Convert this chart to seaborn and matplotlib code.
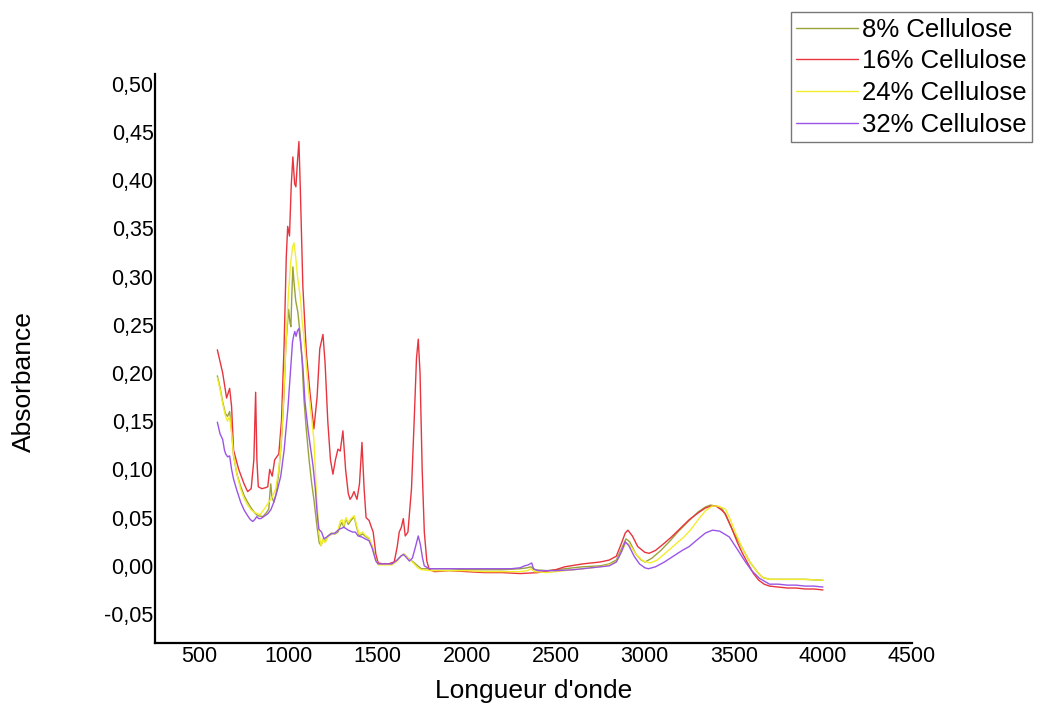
import matplotlib
matplotlib.use("Agg")
import matplotlib.pyplot as plt
from matplotlib.ticker import FuncFormatter, MultipleLocator
import numpy as np
import pandas as pd
import seaborn as sns

# FTIR absorbance spectra (wavenumber, absorbance) for each cellulose loading
series_names = ["8% Cellulose", "16% Cellulose", "24% Cellulose", "32% Cellulose"]

x_8 = [600, 615, 630, 645, 657, 669, 680, 691, 710, 730, 750, 770, 790, 810, 827, 855, 875, 889, 895, 900,
       906, 917, 930, 945, 960, 973, 985, 1000, 1008, 1013, 1018, 1024, 1030, 1040, 1052, 1065, 1075, 1086,
       1100, 1115, 1130, 1142, 1160, 1172, 1182, 1195, 1205, 1221, 1240, 1260, 1277, 1290, 1300, 1310, 1322,
       1335, 1350, 1368, 1382, 1396, 1415, 1435, 1452, 1470, 1490, 1503, 1540, 1580, 1610, 1630, 1650, 1670,
       1700, 1725, 1745, 1800, 1900, 2000, 2100, 2200, 2300, 2340, 2360, 2380, 2450, 2550, 2650, 2750, 2800,
       2840, 2870, 2894, 2915, 2950, 2980, 3001, 3040, 3090, 3137, 3190, 3249, 3300, 3340, 3368, 3400, 3435,
       3460, 3500, 3548, 3590, 3630, 3661, 3700, 3800, 3900, 4000]
y_8 = [0.197, 0.185, 0.170, 0.158, 0.155, 0.160, 0.140, 0.114, 0.095, 0.083, 0.073, 0.066, 0.060, 0.055,
       0.052, 0.051, 0.055, 0.059, 0.075, 0.085, 0.072, 0.066, 0.075, 0.097, 0.130, 0.173, 0.230, 0.266,
       0.252, 0.248, 0.280, 0.310, 0.295, 0.275, 0.263, 0.240, 0.215, 0.173, 0.140, 0.110, 0.085, 0.069,
       0.040, 0.024, 0.021, 0.028, 0.025, 0.031, 0.034, 0.033, 0.035, 0.042, 0.045, 0.040, 0.049, 0.043,
       0.047, 0.051, 0.040, 0.031, 0.033, 0.030, 0.028, 0.020, 0.006, 0.002, 0.002, 0.002, 0.006, 0.010,
       0.012, 0.008, 0.004, 0.000, -0.003, -0.003, -0.003, -0.004, -0.004, -0.004, -0.003, -0.002, -0.001,
       -0.004, -0.005, -0.003, -0.001, 0.000, 0.002, 0.006, 0.018, 0.028, 0.025, 0.012, 0.006, 0.004, 0.008,
       0.016, 0.025, 0.036, 0.047, 0.056, 0.061, 0.063, 0.062, 0.059, 0.050, 0.034, 0.018, 0.004, -0.006,
       -0.012, -0.014, -0.014, -0.014, -0.015]

x_16 = [600, 630, 652, 669, 680, 691, 720, 750, 770, 790, 805, 815, 822, 830, 850, 870, 883, 894, 908, 922,
        945, 960, 975, 987, 995, 1005, 1015, 1024, 1034, 1041, 1050, 1058, 1066, 1080, 1100, 1120, 1142, 1160,
        1175, 1193, 1205, 1220, 1235, 1249, 1263, 1277, 1290, 1305, 1320, 1335, 1345, 1356, 1367, 1384, 1398,
        1412, 1424, 1435, 1452, 1465, 1475, 1490, 1503, 1530, 1560, 1593, 1610, 1621, 1633, 1644, 1655, 1670,
        1690, 1705, 1718, 1728, 1738, 1750, 1762, 1776, 1790, 1820, 1900, 2000, 2100, 2200, 2300, 2400, 2500,
        2550, 2650, 2750, 2800, 2840, 2870, 2890, 2905, 2930, 2960, 3000, 3024, 3060, 3100, 3150, 3200, 3250,
        3300, 3340, 3373, 3400, 3430, 3452, 3490, 3520, 3548, 3580, 3610, 3640, 3670, 3700, 3750, 3800, 3850,
        3900, 3950, 4000]
y_16 = [0.224, 0.200, 0.174, 0.184, 0.165, 0.120, 0.100, 0.085, 0.077, 0.080, 0.110, 0.180, 0.110, 0.082,
        0.080, 0.081, 0.082, 0.100, 0.093, 0.110, 0.116, 0.150, 0.230, 0.320, 0.352, 0.342, 0.395, 0.424,
        0.396, 0.393, 0.420, 0.440, 0.390, 0.290, 0.220, 0.180, 0.142, 0.175, 0.225, 0.240, 0.210, 0.150,
        0.110, 0.095, 0.110, 0.121, 0.119, 0.140, 0.100, 0.075, 0.069, 0.072, 0.077, 0.069, 0.085, 0.128,
        0.080, 0.050, 0.047, 0.040, 0.035, 0.012, 0.003, 0.002, 0.002, 0.004, 0.020, 0.035, 0.040, 0.049,
        0.031, 0.035, 0.080, 0.150, 0.215, 0.235, 0.200, 0.100, 0.035, 0.005, -0.004, -0.006, -0.005, -0.006,
        -0.007, -0.007, -0.008, -0.007, -0.004, -0.001, 0.002, 0.004, 0.006, 0.010, 0.024, 0.034, 0.037,
        0.031, 0.020, 0.014, 0.013, 0.016, 0.022, 0.030, 0.039, 0.048, 0.055, 0.060, 0.062, 0.062, 0.058,
        0.054, 0.038, 0.024, 0.013, 0.002, -0.008, -0.015, -0.019, -0.021, -0.022, -0.023, -0.023, -0.024,
        -0.024, -0.025]

x_24 = [600, 615, 630, 645, 657, 669, 680, 691, 710, 730, 750, 770, 790, 804, 825, 840, 860, 889, 910, 928,
        945, 955, 967, 985, 1000, 1012, 1022, 1030, 1040, 1050, 1058, 1068, 1075, 1085, 1097, 1110, 1125,
        1142, 1155, 1170, 1182, 1195, 1205, 1221, 1240, 1260, 1277, 1290, 1300, 1310, 1322, 1335, 1350, 1368,
        1382, 1396, 1415, 1435, 1452, 1470, 1490, 1503, 1540, 1580, 1610, 1630, 1650, 1670, 1700, 1725, 1745,
        1800, 1900, 2000, 2100, 2200, 2300, 2340, 2360, 2380, 2450, 2550, 2650, 2750, 2800, 2840, 2870, 2894,
        2915, 2950, 2990, 3030, 3070, 3120, 3170, 3220, 3260, 3300, 3340, 3379, 3410, 3452, 3480, 3510, 3548,
        3590, 3630, 3661, 3700, 3800, 3900, 4000]
y_24 = [0.195, 0.183, 0.168, 0.156, 0.150, 0.155, 0.138, 0.115, 0.095, 0.080, 0.070, 0.063, 0.058, 0.056,
        0.054, 0.053, 0.058, 0.066, 0.072, 0.080, 0.100, 0.120, 0.155, 0.230, 0.285, 0.315, 0.330, 0.335,
        0.320, 0.300, 0.290, 0.275, 0.256, 0.240, 0.214, 0.185, 0.160, 0.131, 0.080, 0.035, 0.021, 0.028,
        0.024, 0.030, 0.033, 0.034, 0.037, 0.046, 0.048, 0.042, 0.050, 0.045, 0.049, 0.052, 0.042, 0.033,
        0.035, 0.031, 0.029, 0.020, 0.006, 0.001, 0.001, 0.001, 0.005, 0.010, 0.012, 0.008, 0.003, -0.002,
        -0.004, -0.005, -0.005, -0.005, -0.006, -0.006, -0.006, -0.005, -0.003, -0.006, -0.007, -0.005,
        -0.003, -0.001, 0.001, 0.004, 0.015, 0.024, 0.022, 0.012, 0.005, 0.003, 0.006, 0.014, 0.022, 0.030,
        0.038, 0.048, 0.057, 0.062, 0.062, 0.059, 0.048, 0.034, 0.018, 0.004, -0.006, -0.012, -0.014,
        -0.014, -0.014, -0.015]

x_32 = [600, 615, 630, 640, 647, 658, 669, 680, 691, 710, 731, 750, 770, 785, 799, 810, 821, 832, 844, 860,
        883, 900, 917, 935, 956, 975, 996, 1010, 1022, 1030, 1035, 1042, 1050, 1058, 1068, 1080, 1092, 1110,
        1125, 1137, 1150, 1160, 1170, 1185, 1199, 1215, 1238, 1260, 1285, 1311, 1335, 1360, 1375, 1390, 1410,
        1430, 1452, 1470, 1490, 1503, 1540, 1580, 1610, 1630, 1644, 1660, 1678, 1695, 1710, 1728, 1740, 1752,
        1762, 1790, 1850, 1950, 2050, 2150, 2250, 2300, 2325, 2345, 2365, 2375, 2400, 2500, 2600, 2700, 2800,
        2840, 2870, 2890, 2910, 2940, 2970, 3000, 3020, 3060, 3110, 3160, 3210, 3249, 3300, 3340, 3380, 3420,
        3474, 3520, 3565, 3600, 3644, 3700, 3750, 3800, 3850, 3900, 3950, 4000]
y_32 = [0.149, 0.137, 0.131, 0.120, 0.116, 0.113, 0.114, 0.100, 0.090, 0.078, 0.066, 0.058, 0.052, 0.048,
        0.046, 0.048, 0.051, 0.049, 0.049, 0.051, 0.054, 0.058, 0.066, 0.077, 0.093, 0.120, 0.163, 0.200,
        0.232, 0.240, 0.243, 0.238, 0.244, 0.246, 0.230, 0.207, 0.170, 0.140, 0.120, 0.104, 0.080, 0.055,
        0.038, 0.035, 0.028, 0.030, 0.033, 0.034, 0.038, 0.040, 0.037, 0.035, 0.035, 0.031, 0.030, 0.028,
        0.026, 0.018, 0.005, 0.002, 0.002, 0.002, 0.006, 0.010, 0.012, 0.009, 0.005, 0.008, 0.018, 0.031,
        0.022, 0.008, 0.000, -0.003, -0.003, -0.003, -0.003, -0.003, -0.003, -0.002, 0.000, 0.001, 0.003,
        -0.003, -0.005, -0.005, -0.004, -0.002, 0.000, 0.004, 0.015, 0.025, 0.021, 0.010, 0.002, -0.002,
        -0.003, -0.001, 0.004, 0.010, 0.016, 0.020, 0.028, 0.034, 0.037, 0.036, 0.030, 0.017, 0.004, -0.005,
        -0.013, -0.019, -0.019, -0.020, -0.020, -0.021, -0.021, -0.022]

line_colors = ["#9ba23a", "#e8343e", "#f3ee2c", "#9b55e6"]

frames = []
for name, xs, ys in zip(series_names, [x_8, x_16, x_24, x_32], [y_8, y_16, y_24, y_32]):
    frames.append(pd.DataFrame({"Longueur d'onde": xs, "Absorbance": ys, "serie": name}))
spectra = pd.concat(frames, ignore_index=True)

sns.set_theme(style="white")
plt.rcParams["font.family"] = ["Liberation Sans", "DejaVu Sans"]

fig = plt.figure(figsize=(10.37, 7.07), dpi=100)
ax = fig.add_axes([155 / 1037, 1 - 643 / 707, (912 - 155) / 1037, (643 - 74) / 707])

sns.lineplot(data=spectra, x="Longueur d'onde", y="Absorbance", hue="serie",
             hue_order=series_names, palette=line_colors, sort=False, estimator=None,
             linewidth=1.0, ax=ax)

ax.set_xlim(250, 4500)
ax.set_ylim(-0.08, 0.51)
ax.xaxis.set_major_locator(MultipleLocator(500))
ax.set_yticks(np.round(np.arange(-0.05, 0.501, 0.05), 2))
ax.yaxis.set_major_formatter(FuncFormatter(lambda v, p: f"{v:.2f}".replace(".", ",").replace("-0,00", "0,00")))
ax.set_xlim(250, 4500)
ax.tick_params(axis="both", length=0, labelsize=15.5, colors="black", pad=2)
ax.tick_params(axis="y", pad=1)

for side in ["top", "right"]:
    ax.spines[side].set_visible(False)
for side in ["left", "bottom"]:
    ax.spines[side].set_color("black")
    ax.spines[side].set_linewidth(1.6)

ax.set_xlabel("Longueur d'onde", fontsize=19, labelpad=9, color="black")
ax.set_ylabel("Absorbance", fontsize=19, color="black")
ax.yaxis.set_label_coords(-0.157, 0.46)

sns.move_legend(ax, "upper right", bbox_to_anchor=(1032 / 1037, 1 - 12 / 707),
                bbox_transform=fig.transFigure, title=None, frameon=True, fontsize=18.5,
                handlelength=2.4, handletextpad=0.15, labelspacing=0.3, borderpad=0.22,
                borderaxespad=0, fancybox=False, edgecolor="#555555")
leg = ax.get_legend()
leg.get_frame().set_linewidth(1.0)
for line in leg.get_lines():
    line.set_linewidth(1.0)
for txt in leg.get_texts():
    txt.set_color("black")

fig.savefig("out.png", dpi=100, facecolor="white")
